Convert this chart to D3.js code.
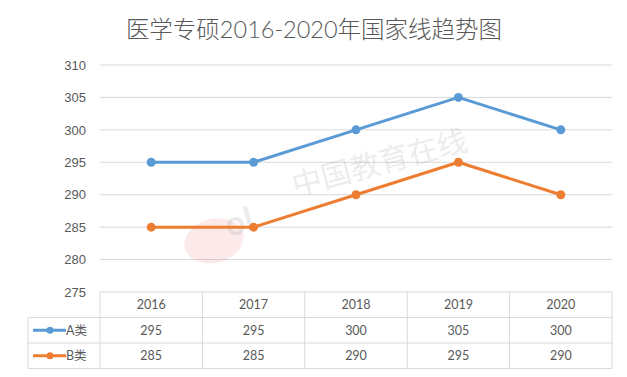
<!DOCTYPE html>
<html lang="zh">
<head>
<meta charset="UTF-8" />
<title>医学专硕2016-2020年国家线趋势图</title>
<script src="https://d3js.org/d3.v7.min.js"></script>
<style>
  body { margin: 0; background: #fff; }
  svg { display: block; font-family: Lato, "Noto Sans CJK SC", sans-serif; }
  .tick text { fill: #595959; font-size: 13px; }
  .cell { fill: #595959; font-size: 12.5px; text-anchor: middle; }
</style>
</head>
<body>
<div id="chart"></div>
<script>
const years = ["2016", "2017", "2018", "2019", "2020"];
const seriesNames = ["A类", "B类"];
const seriesA = [295, 295, 300, 305, 300];
const seriesB = [285, 285, 290, 295, 290];
const yTicks = [275, 280, 285, 290, 295, 300, 305, 310];
const colors = ["#5b9bd5", "#ed7d31"];

const width = 627, height = 377;
const plotLeft = 100, plotRight = 612, plotTop = 65, plotBottom = 292;
const rowH = 25.5;
const legendLeft = 28;

const svg = d3.select("#chart").append("svg")
  .attr("width", width).attr("height", height);

// title
svg.append("text")
  .attr("x", 314).attr("y", 38)
  .attr("text-anchor", "middle")
  .attr("fill", "#595959")
  .style("font-size", "23.5px")
  .style("font-weight", 300)
  .text("医学专硕2016-2020年国家线趋势图");

const x = d3.scaleBand().domain(years).range([plotLeft, plotRight]);
const y = d3.scaleLinear().domain([275, 310]).range([plotBottom, plotTop]);

// gridlines
svg.append("g").selectAll("line")
  .data(yTicks.filter(d => d > 275))
  .join("line")
  .attr("x1", plotLeft).attr("x2", plotRight)
  .attr("y1", d => y(d)).attr("y2", d => y(d))
  .attr("stroke", "#d9d9d9").attr("stroke-width", 1);

// y axis labels
const yAxis = svg.append("g")
  .attr("transform", `translate(${plotLeft - 14},0)`)
  .call(d3.axisLeft(y).tickValues(yTicks).tickSize(0).tickPadding(0));
yAxis.select(".domain").remove();

// watermark (eol logo + site name)
const wm = svg.append("g").attr("transform", "translate(300,195) rotate(-15)");
wm.append("ellipse").attr("cx", -95).attr("cy", 22).attr("rx", 30).attr("ry", 22)
  .attr("fill", "#e0303a").attr("opacity", 0.1);
wm.append("text").attr("x", -80).attr("y", 22)
  .attr("fill", "#777").attr("opacity", 0.14)
  .style("font-size", "34px").style("font-weight", 700)
  .text("ol");
wm.append("text").attr("x", -5).attr("y", 0)
  .attr("fill", "#777").attr("opacity", 0.13)
  .style("font-size", "30px")
  .text("中国教育在线");

// lines
const line = d3.line()
  .x((d, i) => x(years[i]) + x.bandwidth() / 2)
  .y(d => y(d));

[seriesA, seriesB].forEach((vals, k) => {
  svg.append("path")
    .datum(vals)
    .attr("d", line)
    .attr("fill", "none")
    .attr("stroke", colors[k])
    .attr("stroke-width", 3)
    .attr("stroke-linejoin", "round");
  svg.append("g").selectAll("circle")
    .data(vals)
    .join("circle")
    .attr("cx", (d, i) => x(years[i]) + x.bandwidth() / 2)
    .attr("cy", d => y(d))
    .attr("r", 4.5)
    .attr("fill", colors[k]);
});

// data table
const tbl = svg.append("g");
const tableTop = plotBottom;
const border = "#d9d9d9";

tbl.append("line").attr("x1", plotLeft).attr("x2", plotRight)
  .attr("y1", tableTop).attr("y2", tableTop).attr("stroke", border);
[1, 2, 3].forEach(r => {
  tbl.append("line").attr("x1", legendLeft).attr("x2", plotRight)
    .attr("y1", tableTop + r * rowH).attr("y2", tableTop + r * rowH).attr("stroke", border);
});
tbl.append("line").attr("x1", legendLeft).attr("x2", legendLeft)
  .attr("y1", tableTop + rowH).attr("y2", tableTop + 3 * rowH).attr("stroke", border);
d3.range(years.length + 1).forEach(i => {
  const xx = plotLeft + i * x.bandwidth();
  tbl.append("line").attr("x1", xx).attr("x2", xx)
    .attr("y1", tableTop).attr("y2", tableTop + 3 * rowH).attr("stroke", border);
});

// header row
tbl.append("g").selectAll("text").data(years).join("text")
  .attr("class", "cell")
  .attr("x", d => x(d) + x.bandwidth() / 2)
  .attr("y", tableTop + rowH / 2 + 4.5)
  .text(d => d);

[seriesA, seriesB].forEach((vals, k) => {
  const ry = tableTop + (k + 1) * rowH + rowH / 2;
  tbl.append("g").selectAll("text").data(vals).join("text")
    .attr("class", "cell")
    .attr("x", (d, i) => x(years[i]) + x.bandwidth() / 2)
    .attr("y", ry + 4.5)
    .text(d => d);
  // legend key
  tbl.append("line").attr("x1", 33).attr("x2", 66)
    .attr("y1", ry).attr("y2", ry)
    .attr("stroke", colors[k]).attr("stroke-width", 3);
  tbl.append("circle").attr("cx", 50).attr("cy", ry).attr("r", 3.5)
    .attr("fill", colors[k]);
  tbl.append("text").attr("x", 66).attr("y", ry + 4.5)
    .attr("fill", "#595959").style("font-size", "12.5px")
    .text(seriesNames[k]);
});
</script>
</body>
</html>
